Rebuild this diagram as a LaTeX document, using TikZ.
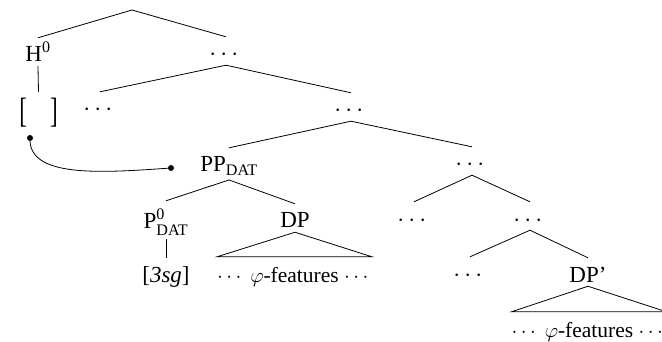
\documentclass[tikz,border=0pt]{standalone}
\usepackage{amsmath}
\usepackage{graphicx}
\usepackage{fontspec}
\setmainfont{Liberation Serif}
\begin{document}
\begin{tikzpicture}[x=1pt,y=-1pt,
  font=\fontsize{23}{27}\selectfont,
  lbl/.style={inner xsep=1pt, inner ysep=4pt, text height=20pt, anchor=base},
  brk/.style={inner xsep=0pt, inner ysep=4pt, text height=27pt, anchor=base},
  feat/.style={inner xsep=0pt, inner ysep=4pt, text height=21pt, anchor=base, font=\fontsize{21.5}{26}\selectfont},
  edge/.style={line width=0.8pt},
  tri/.style={line width=0.8pt, line join=miter},
  dotnode/.style={circle, fill=black, inner sep=0pt, minimum size=6pt}]
\clip (0,0) rectangle (662,342);
\coordinate (root) at (132,10);
\node[lbl] (H) at (38,62) {H$^{\text{0}}$};
\node[lbl] (d1) at (226,61) {$\cdots$};
\node[brk] (br) at (38.5,123) {\scalebox{1}[1.53]{[}\hspace{23pt}\scalebox{1}[1.53]{]}};
\node[lbl] (d2) at (100,116) {$\cdots$};
\node[lbl] (d3) at (351,117) {$\cdots$};
\node[lbl] (PP) at (229,172) {PP$_{\text{DAT}}$};
\node[lbl] (d4) at (472,171) {$\cdots$};
\node[lbl, text height=24pt] (P0) at (166,229) {P$^{\text{0}}_{\text{DAT}}$};
\node[lbl] (DP) at (295,228) {DP};
\node[lbl] (d5) at (414,226) {$\cdots$};
\node[lbl] (d6) at (530,226) {$\cdots$};
\node[lbl] (sg) at (166,282) {[\textit{3sg}]};
\node[feat] (f1) at (294.5,282) {$\cdots$ $\varphi$-features $\cdots$};
\node[lbl] (d7) at (470,281) {$\cdots$};
\node[lbl] (DPp) at (588,282) {DP'};
\node[feat] (f2) at (589,337) {$\cdots$ $\varphi$-features $\cdots$};
\node[dotnode] (ca) at (30,138) {};
\node[dotnode] (cb) at (171,168) {};

\draw[edge] (root) -- (H.north);
\draw[edge] (root) -- (d1.north);
\draw[edge] (H.south) -- (br.north);
\draw[edge] (d1.south) -- (d2.north);
\draw[edge] (d1.south) -- (d3.north);
\draw[edge] (d3.south) -- (PP.north);
\draw[edge] (d3.south) -- (d4.north);
\draw[edge] (PP.south) -- (P0.north);
\draw[edge] (PP.south) -- (DP.north);
\draw[edge] (d4.south) -- (d5.north);
\draw[edge] (d4.south) -- (d6.north);
\draw[edge] (P0.south) -- (sg.north);
\draw[edge] (d6.south) -- (d7.north);
\draw[edge] (d6.south) -- (DPp.north);
\draw[tri] (DP.south) -- (f1.north west) -- (f1.north east) -- cycle;
\draw[tri] (DPp.south) -- (f2.north west) -- (f2.north east) -- cycle;
\draw[edge] (ca.center) .. controls (28,178) and (100,173) .. (cb.center);
\end{tikzpicture}
\end{document}
